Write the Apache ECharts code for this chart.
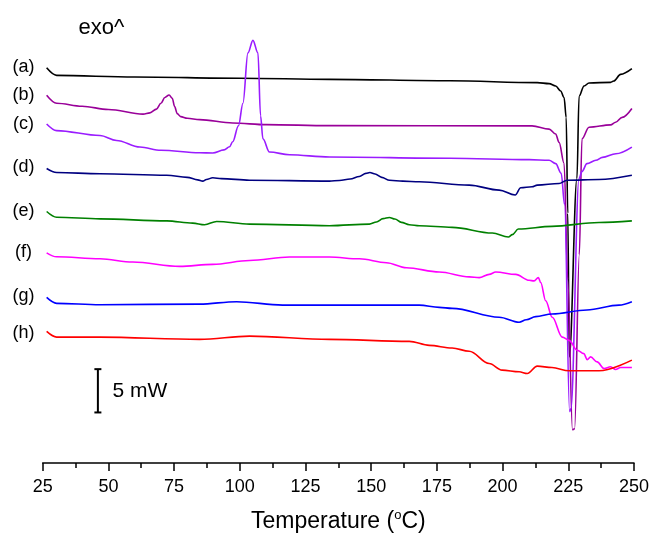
<!DOCTYPE html>
<html><head><meta charset="utf-8">
<script src="https://cdn.jsdelivr.net/npm/echarts@6/dist/echarts.min.js"></script>
<style>html,body{margin:0;padding:0;background:#fff}#c{width:652px;height:538px}</style>
</head><body><div id="c"></div>
<script>
// Temperature (°C) vs heat flow (mW, curves offset vertically)
const curveA = [[26.5,47.46],[30.3,46.55],[60,46.35],[100,46.2],[134.1,46.07],[180,45.9],[213.2,45.68],[217.7,45.56],[220.2,45.27],[222.1,44.67],[223.4,43.89],[224.2,41.5],[224.8,30],[225.4,12.74],[228.3,34.17],[229.1,44.05],[231.0,45.27],[232.9,45.64],[241.1,45.71],[242.3,45.87],[244.9,46.67],[249.2,47.35]];
const curveB = [[26.5,44.17],[30.3,43.21],[40,42.85],[50,42.45],[63.2,41.9],[65.8,42.05],[68.3,42.5],[70.0,43.2],[71.5,43.9],[73.1,44.2],[74.3,43.8],[75.2,42.8],[76.2,41.95],[77.5,41.6],[80,41.4],[84.7,41.23],[97.3,40.83],[110.2,40.63],[134.1,40.51],[211.2,40.48],[217.7,40.1],[220.2,39.5],[221.5,38.5],[223.4,36.0],[224.8,22],[226.6,4.0],[227.4,4.1],[229.2,25],[230.2,38.93],[232.9,40.32],[241.1,40.6],[243.0,40.92],[245.5,41.51],[249.2,42.58]];
const curveC = [[26.5,40.71],[30.3,39.92],[46.8,39.32],[53.1,38.73],[62.0,37.94],[70,37.55],[84.7,37.26],[89.7,37.23],[94,37.6],[96.1,37.98],[97.3,38.57],[99.5,40.5],[101.2,43.21],[103.1,49.25],[105.0,50.75],[106.9,49.25],[107.9,41.70],[108.8,38.93],[111.3,37.35],[118.9,37.02],[134.1,36.75],[180,36.6],[210.1,36.43],[217.7,36.35],[220.2,35.95],[222.3,34.8],[223.6,31],[225.5,6.19],[226.0,6.5],[229.1,34.17],[230.2,35.0],[232.1,35.95],[235.5,36.35],[238.0,36.7],[243.1,37.14],[249.2,37.94]];
const curveD = [[26.5,35.36],[30.3,34.88],[46.8,34.73],[72.2,34.56],[80,34.3],[84,34.0],[85.9,33.85],[87.3,34.05],[89.7,34.25],[93,34.15],[103.7,33.96],[134.1,33.85],[137.9,33.93],[142,34.1],[145.5,34.4],[148,34.78],[149.5,34.88],[151.5,34.7],[154,34.3],[157,33.95],[162,33.85],[168.3,33.77],[187.3,33.37],[198.7,32.77],[204.8,32.18],[206.9,33.06],[211.2,33.18],[213.2,33.37],[221.5,33.57],[224.5,33.96],[236.7,34.05],[249.2,34.56]];
const curveE = [[26.5,30.20],[30.3,29.52],[46.8,29.32],[72.2,29.08],[82.1,28.81],[86.6,28.61],[91.2,29.01],[103.7,28.69],[134.1,28.49],[149.3,28.69],[152,28.95],[154.5,29.35],[156.9,29.49],[159,29.3],[161.5,28.9],[164.5,28.61],[168.3,28.49],[180.8,28.30],[196.1,27.62],[202.2,27.14],[203.7,27.42],[206.0,28.10],[218.8,28.42],[236.7,28.89],[249.2,29.08]];
const curveF = [[26.5,25.24],[30.3,24.76],[46.8,24.52],[59.3,24.13],[77.1,23.61],[89.7,23.85],[103.7,24.32],[118.9,24.73],[134.1,24.73],[145.5,24.52],[155.8,24.05],[163.4,23.45],[175.9,22.94],[187.3,22.35],[191.1,22.26],[194.9,22.65],[197.4,22.94],[205.0,22.65],[210.1,21.94],[212.0,21.87],[213.6,22.26],[214.5,21.67],[216.4,19.49],[218.9,17.5],[222.7,15.12],[225.3,14.73],[228.4,13.54],[230.9,13.13],[232.2,12.42],[233.5,12.74],[236.0,12.14],[238.6,11.35],[241.1,11.55],[243.0,11.23],[244.9,11.46],[249.2,11.46]];
const curveG = [[26.5,19.88],[30.3,19.17],[46.8,19.01],[84.7,19.08],[98.8,19.37],[116.3,18.96],[134.1,18.96],[168.3,18.96],[175.9,18.69],[180.8,18.57],[198.7,17.5],[206.3,16.9],[209.0,17.2],[212.6,17.58],[218.8,17.89],[232.1,18.37],[244.3,18.96],[249.2,19.37]];
const curveH = [[26.5,15.80],[30.3,15.12],[46.8,15.12],[84.7,14.85],[103.7,15.24],[134.1,14.85],[164.5,14.61],[172.1,14.13],[180.8,13.81],[187.3,13.42],[194.9,11.94],[199.8,11.15],[206.3,10.95],[209.4,10.75],[213.2,11.63],[218.8,11.46],[225.3,11.07],[236.7,11.07],[249.2,12.35]];
const curveNames = ['(a)','(b)','(c)','(d)','(e)','(f)','(g)','(h)'];
const curveColors = ['#000000','#990099','#9a1cff','#000080','#008000','#ff00ff','#0000ff','#ff0000'];
const labelValues = [47.6, 44.15, 40.7, 35.5, 30.24, 25.35, 20.0, 15.55];
const labelTemp = 17.7;
const scaleBar = [[46.0,6.07],[46.0,11.27]];
const annotations = [[47.3,52.3,'exo^',22],[62.0,8.6,'5 mW',21]];

const curves = [curveA,curveB,curveC,curveD,curveE,curveF,curveG,curveH];
const FONT = 'Liberation Sans, Arial, sans-serif';
const chart = echarts.init(document.getElementById('c'));
const series = curves.map((d,i)=>({
  type:'line', name:curveNames[i], data:d, showSymbol:false, smooth:0.35, smoothMonotone:'x',
  lineStyle:{color:curveColors[i], width:1.6}, itemStyle:{color:curveColors[i]}, z: 2 + i, silent:true
}));
series.push({
  type:'line', data:scaleBar, showSymbol:true, symbol:'rect', symbolSize:[7,2],
  lineStyle:{color:'#000',width:2}, itemStyle:{color:'#000'}, silent:true
});
chart.setOption({
  animation:false,
  grid:{left:42.7, right:17, top:5, bottom:71, containLabel:false},
  xAxis:{type:'value', min:25, max:250, interval:25,
    axisLine:{show:true, onZero:false, lineStyle:{color:'#000', width:1.5}},
    axisTick:{show:true, inside:false, length:8, lineStyle:{color:'#000', width:1.5}},
    minorTick:{show:true, splitNumber:2, length:5, lineStyle:{color:'#000', width:1.5}},
    splitLine:{show:false},
    axisLabel:{color:'#000', fontSize:18, fontFamily:FONT, margin:15},
    name:'Temperature ({s|o}C)', nameLocation:'middle', nameGap:46,
    nameTextStyle:{color:'#000', fontSize:23, fontFamily:FONT,
      rich:{s:{fontSize:13, verticalAlign:'top', padding:[0,0,12,0], fontFamily:FONT, color:'#000'}}}
  },
  yAxis:{type:'value', min:0, max:55, show:false},
  series:series
});
const texts = [];
labelValues.forEach((v,i)=>{
  const p = chart.convertToPixel({gridIndex:0},[labelTemp,v]);
  texts.push({type:'text', x:p[0], y:p[1], silent:true,
    style:{text:curveNames[i], fill:'#000', font:'18px '+FONT, align:'center', verticalAlign:'middle'}});
});
annotations.forEach(a=>{
  const p = chart.convertToPixel({gridIndex:0},[a[0],a[1]]);
  texts.push({type:'text', x:p[0], y:p[1], silent:true,
    style:{text:a[2], fill:'#000', font:a[3]+'px '+FONT, align:'center', verticalAlign:'middle'}});
});
chart.setOption({graphic:texts});
</script></body></html>
